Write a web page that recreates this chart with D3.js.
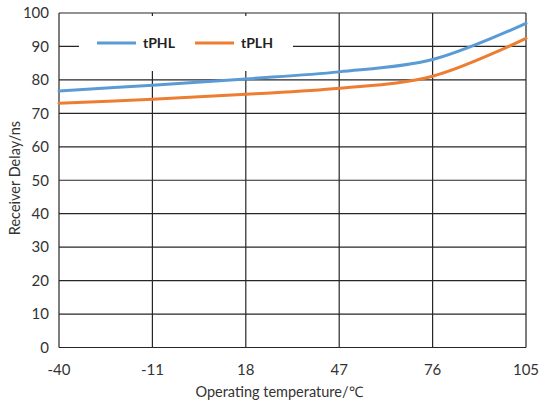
<!DOCTYPE html>
<html><head><meta charset="utf-8">
<script src="https://cdn.jsdelivr.net/npm/d3@7"></script>
<style>html,body{margin:0;padding:0;background:#fff;}</style>
</head><body>
<svg id="c" width="540" height="400"></svg>
<script>
const temps = [-40, -11, 18, 47, 76, 105];
const tPHL = [76.7, 78.4, 80.3, 82.4, 86.1, 96.9];
const tPLH = [73.0, 74.2, 75.7, 77.5, 81.1, 92.4];
const yTicks = [0,10,20,30,40,50,60,70,80,90,100];
const seriesNames = ["tPHL", "tPLH"];
const colors = ["#5b9bd5", "#ed7d31"];

const svg = d3.select("#c");
const L = 59, R = 526, T = 13, B = 347.5;
const x = d3.scalePoint().domain(temps).range([L, R]);
const y = d3.scaleLinear().domain([0, 100]).range([B, T]);
const font = "Lato, 'Open Sans', sans-serif";
const grid = "#262626";

// horizontal grid
svg.append("g").selectAll("line").data(yTicks).join("line")
  .attr("x1", L).attr("x2", R).attr("y1", d => y(d)).attr("y2", d => y(d))
  .attr("stroke", grid).attr("stroke-width", 1.2);
// vertical grid
svg.append("g").selectAll("line").data(temps).join("line")
  .attr("x1", d => x(d)).attr("x2", d => x(d)).attr("y1", T).attr("y2", B)
  .attr("stroke", grid).attr("stroke-width", 1.2);

// legend background
svg.append("rect").attr("x", 79).attr("y", 16).attr("width", 214).attr("height", 55).attr("fill", "#fff");

// lines
const line = d3.line().x((d, i) => x(temps[i])).y(d => y(d)).curve(d3.curveCatmullRom.alpha(0.5));
[tPHL, tPLH].forEach((s, i) => {
  svg.append("path").attr("d", line(s)).attr("fill", "none")
    .attr("stroke", colors[i]).attr("stroke-width", 3).attr("stroke-linecap", "round");
});

// y tick labels
svg.append("g").selectAll("text").data(yTicks).join("text")
  .attr("x", 49).attr("y", d => y(d)).attr("dy", "0.35em")
  .attr("text-anchor", "end").attr("font-family", font).attr("font-size", 15)
  .attr("fill", "#333").text(d => d);
// x tick labels
svg.append("g").selectAll("text").data(temps).join("text")
  .attr("x", d => x(d)).attr("y", 370).attr("dy", "0.35em")
  .attr("text-anchor", "middle").attr("font-family", font).attr("font-size", 15)
  .attr("fill", "#333").text(d => d);

// axis titles
svg.append("text").attr("x", 279).attr("y", 392).attr("dy", "0.35em")
  .attr("text-anchor", "middle").attr("font-family", font).attr("font-size", 14.5)
  .attr("fill", "#333").text("Operating temperature/℃");
svg.append("text").attr("transform", "translate(15,178) rotate(-90)").attr("dy", "0.35em")
  .attr("text-anchor", "middle").attr("font-family", font).attr("font-size", 14.5)
  .attr("fill", "#333").text("Receiver Delay/ns");

// legend
const lx = [97, 195];
seriesNames.forEach((n, i) => {
  svg.append("line").attr("x1", lx[i]).attr("x2", lx[i] + 39).attr("y1", 43).attr("y2", 43)
    .attr("stroke", colors[i]).attr("stroke-width", 3);
  svg.append("text").attr("x", lx[i] + 46).attr("y", 43).attr("dy", "0.35em")
    .attr("font-family", font).attr("font-size", 14).attr("font-weight", "bold")
    .attr("fill", "#222").text(n);
});
</script>
</body></html>
